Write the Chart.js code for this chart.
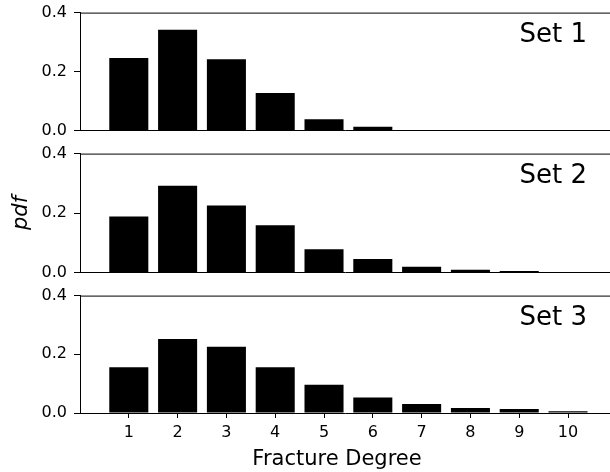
<!DOCTYPE html>
<html>
<head>
<meta charset="utf-8">
<script src="https://cdn.jsdelivr.net/npm/chart.js@4"></script>
<style>
  body { margin: 0; background: #fff; width: 610px; height: 472px; overflow: hidden; position: relative; }
  canvas { position: absolute; left: 0; }
</style>
</head>
<body>
<canvas id="g1" width="610" height="151" style="top:-4px"></canvas>
<canvas id="g2" width="610" height="152" style="top:137px"></canvas>
<canvas id="g3" width="610" height="194" style="top:279px"></canvas>
<script>
// dados
const graus = [1, 2, 3, 4, 5, 6, 7, 8, 9, 10];
const set1 = [0.246, 0.342, 0.242, 0.127, 0.038, 0.0126, 0, 0, 0, 0];
const set2 = [0.188, 0.292, 0.225, 0.159, 0.078, 0.045, 0.019, 0.009, 0.0045, 0];
const set3 = [0.156, 0.252, 0.226, 0.156, 0.096, 0.053, 0.031, 0.017, 0.0136, 0.0057];
const yTicks = [0, 0.2, 0.4];
const nomes = ["Set 1", "Set 2", "Set 3"];

const fonte = '"DejaVu Sans", sans-serif';

// borda de cima + textos
const moldura = {
  id: 'moldura',
  afterDraw(chart) {
    const { ctx, chartArea } = chart;
    const op = chart.options.plugins.moldura;
    ctx.save();
    ctx.strokeStyle = '#000';
    ctx.lineWidth = 1;
    ctx.beginPath();
    ctx.moveTo(chartArea.left, chartArea.top + 0.5);
    ctx.lineTo(chartArea.right, chartArea.top + 0.5);
    ctx.stroke();

    ctx.fillStyle = '#000';
    ctx.font = '26px ' + fonte;
    ctx.textAlign = 'right';
    ctx.textBaseline = 'alphabetic';
    ctx.fillText(op.texto, chartArea.right - 23, chartArea.top + 29.5);

    if (op.ylabel) {
      ctx.save();
      ctx.translate(27, (chartArea.top + chartArea.bottom) / 2);
      ctx.rotate(-Math.PI / 2);
      ctx.font = 'italic 21px ' + fonte;
      ctx.textAlign = 'center';
      ctx.fillText(op.ylabel, 0, 0);
      ctx.restore();
    }
    if (op.xlabel) {
      ctx.font = '21px ' + fonte;
      ctx.textAlign = 'center';
      ctx.fillText(op.xlabel, 337, chartArea.bottom + 52);
    }
    ctx.restore();
  }
};

function criarPainel(id, valores, texto, ultimo, ylabel) {
  const ctx = document.getElementById(id);
  new Chart(ctx, {
    type: 'bar',
    data: {
      datasets: [{
        data: graus.map((g, i) => ({ x: g, y: valores[i] })),
        backgroundColor: '#000',
        borderWidth: 0,
        barPercentage: 0.8,
        categoryPercentage: 1
      }]
    },
    options: {
      responsive: false,
      animation: false,
      devicePixelRatio: 1,
      layout: { padding: { top: 12, left: 0, right: 0, bottom: 0 } },
      plugins: {
        legend: { display: false },
        tooltip: { enabled: false },
        moldura: { texto: texto, ylabel: ylabel, xlabel: ultimo ? 'Fracture Degree' : null }
      },
      scales: {
        x: {
          type: 'linear',
          min: 0,
          max: 10.86,
          offset: false,
          afterBuildTicks: s => { s.ticks = graus.map(v => ({ value: v })); },
          afterFit: s => { s.height = ultimo ? 60 : 10; },
          grid: { display: true, drawOnChartArea: false, drawTicks: ultimo, tickLength: 5, color: '#000', offset: false },
          border: { display: true, color: '#000' },
          ticks: {
            display: ultimo, color: '#000', padding: 5, maxRotation: 0, autoSkip: false,
            font: { family: fonte, size: 16 }
          }
        },
        y: {
          min: 0,
          max: 0.4,
          afterBuildTicks: s => { s.ticks = yTicks.map(v => ({ value: v })); },
          afterFit: s => { s.width = 80; },
          grid: { drawOnChartArea: false, drawTicks: true, tickLength: 6, color: '#000' },
          border: { display: true, color: '#000' },
          ticks: {
            color: '#000', padding: 7,
            font: { family: fonte, size: 16 },
            callback: v => v.toFixed(1)
          }
        }
      }
    },
    plugins: [moldura]
  });
}

criarPainel('g1', set1, nomes[0], false, null);
criarPainel('g2', set2, nomes[1], false, 'pdf');
criarPainel('g3', set3, nomes[2], true, null);
</script>
</body>
</html>
